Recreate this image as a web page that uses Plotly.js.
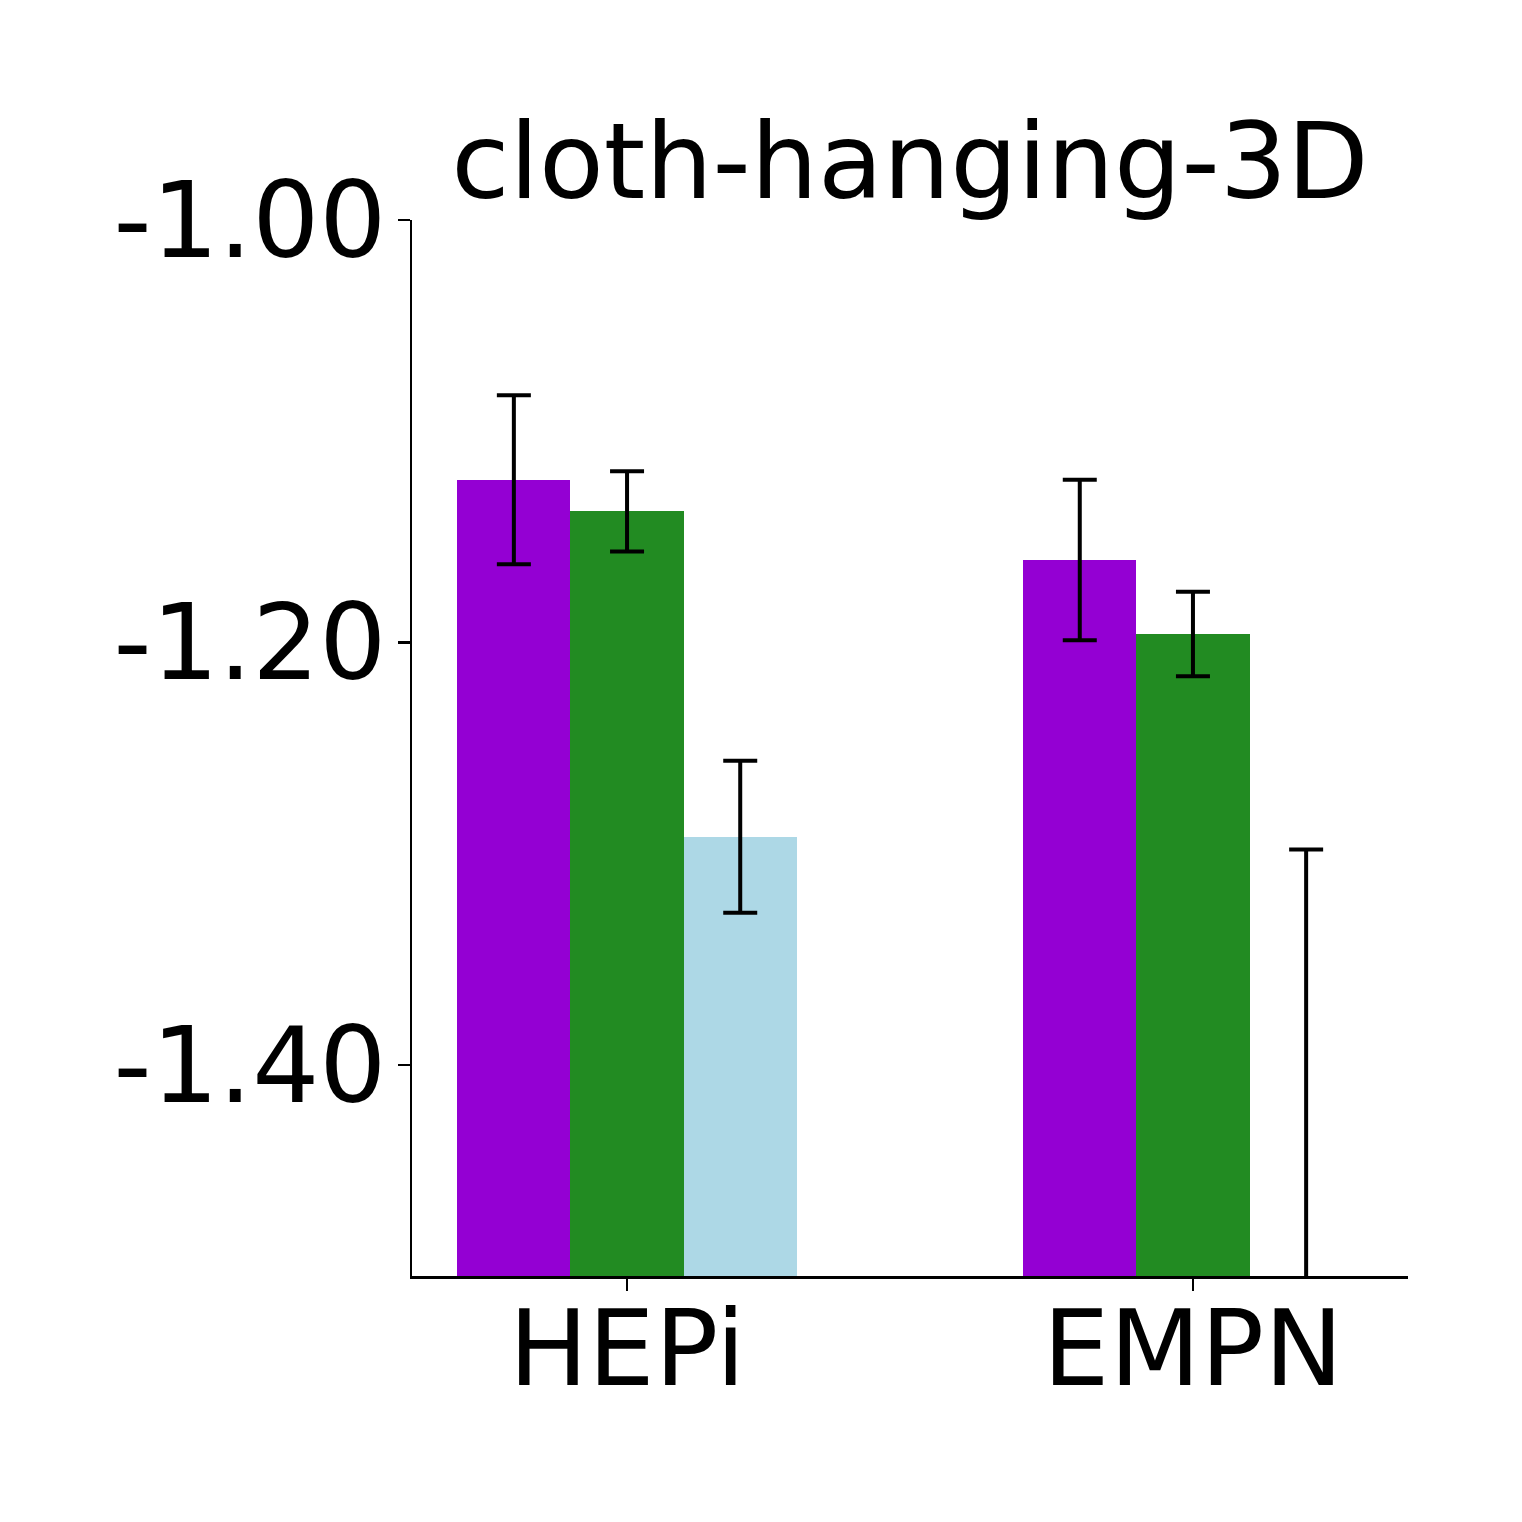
<!DOCTYPE html>
<html>
<head>
<meta charset="utf-8">
<script src="https://cdn.plot.ly/plotly-3.0.1.min.js"></script>
<style>html,body{margin:0;padding:0;background:#fff;}#chart{width:1522px;height:1522px;}</style>
</head>
<body>
<div id="chart"></div>
<script>
const categories = ["HEPi", "EMPN"];
const seriesNames = ["Series A", "Series B", "Series C"];
const seriesColors = ["#9400D3", "#228B22", "#ADD8E6"];
const seriesA = [-1.123, -1.161];
const seriesB = [-1.138, -1.196];
const seriesC = [-1.292, -1.600];
const errA = [0.040, 0.038];
const errB = [0.019, 0.020];
const errC = [0.036, 0.302];
const title = "cloth-hanging-3D";
const yTicks = [-1.4, -1.2, -1.0];
const yTickText = ["-1.40", "-1.20", "-1.00"];

const values = [seriesA, seriesB, seriesC];
const errs = [errA, errB, errC];
const barWidth = 0.2;
const offsets = [-0.2, 0, 0.2];
const floor = -3;
const catIdx = categories.map((_, i) => i);

const traces = [];
values.forEach((vals, s) => {
  const xs = catIdx.map(i => i + offsets[s]);
  traces.push({
    type: "bar",
    name: seriesNames[s],
    x: xs,
    y: vals.map(v => v - floor),
    base: vals.map(() => floor),
    width: barWidth,
    marker: {color: seriesColors[s], line: {width: 0}},
    showlegend: false,
    hoverinfo: "skip"
  });
});
values.forEach((vals, s) => {
  const xs = catIdx.map(i => i + offsets[s]);
  traces.push({
    type: "scatter",
    mode: "markers",
    x: xs,
    y: vals,
    marker: {opacity: 0, size: 1},
    error_y: {type: "data", array: errs[s], visible: true, color: "#000", thickness: 4, width: 17},
    showlegend: false,
    hoverinfo: "skip",
    cliponaxis: true
  });
});

const font = "DejaVu Sans, sans-serif";
const fs = 105.5;
const layout = {
  width: 1522,
  height: 1522,
  paper_bgcolor: "#fff",
  plot_bgcolor: "#fff",
  margin: {l: 412, r: 114, t: 220, b: 246, pad: 0},
  barmode: "overlay",
  bargap: 0,
  showlegend: false,
  title: {
    text: title,
    font: {family: font, size: 106, color: "#000"},
    x: 0.5, xref: "paper", xanchor: "center",
    y: 1, yref: "paper", yanchor: "bottom",
    pad: {b: 22}
  },
  xaxis: {
    range: [-0.38, 1.38],
    tickmode: "array",
    tickvals: catIdx,
    ticktext: categories,
    ticks: "outside",
    ticklen: 12,
    tickwidth: 2.5,
    tickcolor: "#000",
    ticklabelstandoff: -32,
    showline: true,
    linecolor: "#000",
    linewidth: 2.5,
    showgrid: false,
    zeroline: false,
    tickfont: {family: font, size: fs, color: "#000"},
    fixedrange: true
  },
  yaxis: {
    range: [-1.5, -1.0],
    tickmode: "array",
    tickvals: yTicks,
    ticktext: yTickText,
    ticks: "outside",
    ticklen: 12,
    tickwidth: 2.5,
    tickcolor: "#000",
    ticklabelstandoff: -10,
    showline: true,
    linecolor: "#000",
    linewidth: 2.5,
    showgrid: false,
    zeroline: false,
    tickfont: {family: font, size: fs, color: "#000"},
    fixedrange: true
  }
};

Plotly.newPlot("chart", traces, layout, {staticPlot: true, displayModeBar: false});
</script>
</body>
</html>
